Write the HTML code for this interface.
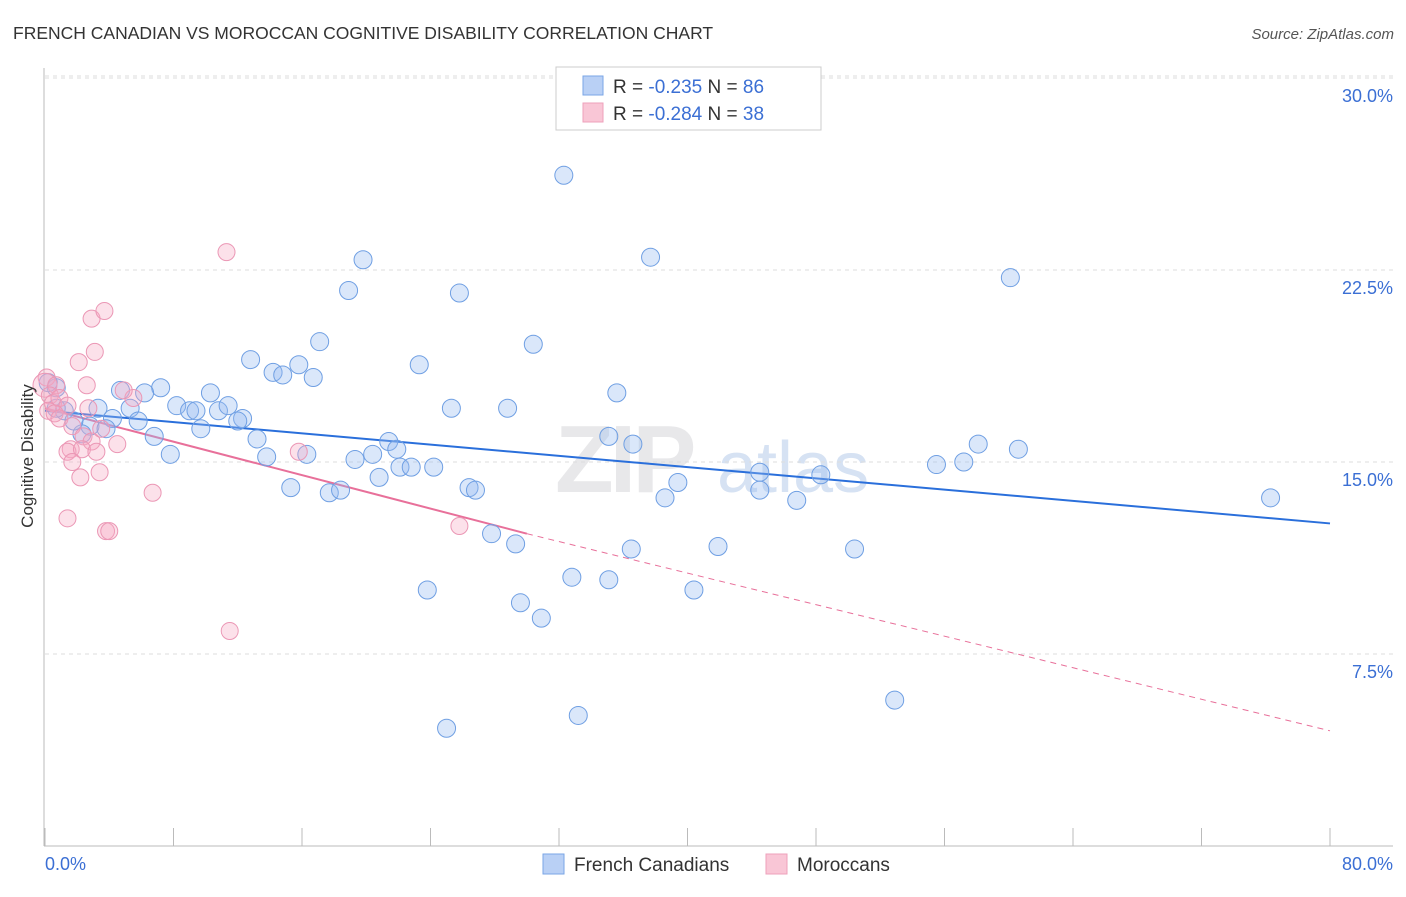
<!DOCTYPE html>
<html><head><meta charset="utf-8"><style>
body{margin:0;background:#fff;font-family:"Liberation Sans",sans-serif}
svg text{font-family:"Liberation Sans",sans-serif}
</style></head><body>
<svg id="chart" width="1406" height="892" xmlns="http://www.w3.org/2000/svg">
<text x="13" y="39" font-size="17.5" fill="#333">FRENCH CANADIAN VS MOROCCAN COGNITIVE DISABILITY CORRELATION CHART</text>
<text x="1394" y="39" font-size="15" fill="#555" text-anchor="end" font-style="italic">Source: ZipAtlas.com</text>
<text x="555" y="492" font-size="96" fill="#e8e8ea" font-weight="bold" letter-spacing="-4">ZIP</text>
<text x="717" y="492" font-size="72" fill="#d6e2f3">atlas</text>
<g id="grid"></g>
<g id="axes"></g>
<g id="trends"></g>
<g id="points"></g>
<text transform="translate(33,456) rotate(-90)" font-size="17" fill="#333" text-anchor="middle">Cognitive Disability</text>
<text x="45" y="870" font-size="18" fill="#3b6fd4">0.0%</text>
<text x="1393" y="870" font-size="18" fill="#3b6fd4" text-anchor="end">80.0%</text>
<g>
<rect x="556" y="67" width="265" height="63" fill="#fff" stroke="#ccc"/>
<rect x="583" y="76" width="20" height="19" fill="#b9d0f5" stroke="#7aa6e6"/>
<rect x="583" y="103" width="20" height="19" fill="#f9c6d6" stroke="#eea0bb"/>
<text x="613" y="93" font-size="19" fill="#333">R = <tspan fill="#3b6fd4">-0.235</tspan>   N = <tspan fill="#3b6fd4">86</tspan></text>
<text x="613" y="120" font-size="19" fill="#333">R = <tspan fill="#3b6fd4">-0.284</tspan>   N = <tspan fill="#3b6fd4">38</tspan></text>
</g>
<g>
<rect x="543" y="854" width="21" height="20" fill="#b9d0f5" stroke="#7aa6e6"/>
<text x="574" y="871" font-size="19" fill="#333">French Canadians</text>
<rect x="766" y="854" width="21" height="20" fill="#f9c6d6" stroke="#eea0bb"/>
<text x="797" y="871" font-size="19" fill="#333">Moroccans</text>
</g>
</svg>
<script>
const yTicks=[7.5,15,22.5,30];
const yTickLabels=["7.5%","15.0%","22.5%","30.0%"];
const xTicks=[0,8,16,24,32,40,48,56,64,72,80];
const blueX=[37.2,32.3,37.7,60.1,19.8,18.9,25.8,30.4,17.1,12.8,23.3,15.8,14.2,14.8,16.7,35.6,7.2,6.2,4.7,10.3,8.2,9.0,9.4,10.8,11.4,12.3,12.0,5.3,3.3,4.2,5.8,6.8,9.7,2.8,3.8,2.3,1.2,0.7,0.7,0.2,1.8,7.8,13.2,13.8,16.3,21.4,21.9,20.4,19.3,22.1,22.8,24.2,25.3,28.8,35.1,36.6,58.1,60.6,55.5,57.2,44.5,48.3,15.3,17.7,18.4,20.8,26.4,26.8,39.4,38.6,44.5,46.8,76.3,27.8,29.3,36.5,41.9,50.4,32.8,35.1,23.8,40.4,29.6,30.9,52.9,33.2,25.0];
const blueY=[29.5,26.2,23.0,22.2,22.9,21.7,21.6,19.6,19.7,19.0,18.8,18.8,18.5,18.4,18.3,17.7,17.9,17.7,17.8,17.7,17.2,17.0,17.0,17.0,17.2,16.7,16.6,17.1,17.1,16.7,16.6,16.0,16.3,16.4,16.3,16.1,17.0,17.1,17.9,18.1,16.6,15.3,15.9,15.2,15.3,15.8,15.5,15.3,15.1,14.8,14.8,14.8,17.1,17.1,16.0,15.7,15.7,15.5,14.9,15.0,14.6,14.5,14.0,13.8,13.9,14.4,14.0,13.9,14.2,13.6,13.9,13.5,13.6,12.2,11.8,11.6,11.7,11.6,10.5,10.4,10.0,10.0,9.5,8.9,5.7,5.1,4.6];
const pinkX=[0.1,0,0.7,0.3,0.5,0.9,1.4,0.2,0.6,0.9,1.7,2.6,2.1,3.1,2.9,3.7,11.3,2.7,2.4,2.9,3.5,4.5,5.5,4.9,1.6,1.4,2.3,3.2,1.7,2.2,3.4,6.7,1.4,3.8,4.0,15.8,25.8,11.5];
const pinkY=[18.3,18.0,18.0,17.6,17.3,17.5,17.2,17.0,16.9,16.7,16.4,18.0,18.9,19.3,20.6,20.9,23.2,17.1,16.0,15.8,16.3,15.7,17.5,17.8,15.5,15.4,15.5,15.4,15.0,14.4,14.6,13.8,12.8,12.3,12.3,15.4,12.5,8.4];
const blueTrend=[17.0,12.6];
const pinkTrend=[17.1,12.2,4.5];
const pinkSolidEnd=30;
const NS="http://www.w3.org/2000/svg";
const sx=v=>45+v*(1285/80);
const sy=v=>846-v*25.6;
function mk(t,attrs,parent){const e=document.createElementNS(NS,t);for(const k in attrs)e.setAttribute(k,attrs[k]);parent.appendChild(e);return e;}
const grid=document.getElementById('grid'),axes=document.getElementById('axes'),tr=document.getElementById('trends'),pts=document.getElementById('points');
yTicks.forEach((v,i)=>{
 const l=mk('line',{x1:45,x2:1393,y1:sy(v),y2:sy(v),stroke:'#ddd','stroke-dasharray':'4,4'},grid);
 
 
 const t=mk('text',{x:1393,y:sy(v)+24,'font-size':18,fill:'#3b6fd4','text-anchor':'end'},grid);
 t.textContent=yTickLabels[i];
 
 
});
const tl=mk('line',{x1:45,x2:1393,y1:sy(30)-2,y2:sy(30)-2,stroke:'#ddd','stroke-dasharray':'4,4'},grid);


const ya=mk('line',{x1:44,x2:44,y1:68,y2:846,stroke:'#bbb'},axes);


const xa=mk('line',{x1:44,x2:1393,y1:846,y2:846,stroke:'#bbb'},axes);


xTicks.forEach(v=>{
 const t=mk('line',{x1:sx(v),x2:sx(v),y1:828,y2:846,stroke:'#bbb'},axes);
 
 
});
const bl=mk('line',{x1:sx(0),y1:sy(blueTrend[0]),x2:sx(80),y2:sy(blueTrend[1]),stroke:'#2a6fdb','stroke-width':2},tr);


const pl=mk('line',{x1:sx(0),y1:sy(pinkTrend[0]),x2:sx(pinkSolidEnd),y2:sy(pinkTrend[1]),stroke:'#e8709a','stroke-width':2},tr);


const pd=mk('line',{x1:sx(pinkSolidEnd),y1:sy(pinkTrend[1]),x2:sx(80),y2:sy(pinkTrend[2]),stroke:'#e8709a','stroke-width':1,'stroke-dasharray':'6,5'},tr);


blueX.forEach((x,i)=>{
 const c=mk('circle',{cx:sx(x),cy:sy(blueY[i]),r:9,fill:'rgba(150,185,240,0.35)',stroke:'#6f9fe3','stroke-width':1},pts);
 
 
});
pinkX.forEach((x,i)=>{
 const c=mk('circle',{cx:sx(x),cy:sy(pinkY[i]),r:i==1?12:8.5,fill:'rgba(245,170,195,0.35)',stroke:'#eb97b5','stroke-width':1},pts);
 
 
});
</script>
</body></html>
